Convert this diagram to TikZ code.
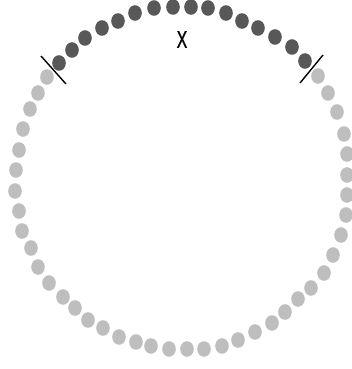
\documentclass[tikz,border=0pt]{standalone}
\usepackage{fontspec}
\setmainfont{Liberation Sans}
\newfontfamily\xlabelfont[FakeBold=1.2]{Liberation Sans}
\definecolor{darkdot}{RGB}{88,88,88}
\definecolor{lightdot}{RGB}{190,190,190}
\tikzset{
  darkbead/.style={fill=darkdot},
  lightbead/.style={fill=lightdot},
  tick/.style={draw=black,line width=1.4pt},
  lbl/.style={font=\xlabelfont\fontsize{24}{24}\selectfont, xscale=0.66, inner sep=0pt}
}
\begin{document}
\begin{tikzpicture}[x=1pt,y=-1pt]
\useasboundingbox (0,0) rectangle (351,369);
\foreach \px/\py in {59/63,72/50,85/38,102/28,118/21,135/13,154/8,173/7,191/7,208/8,226/13,242/21,258/28,275/37,292/47,305/61}
  \fill[darkbead] (\px,\py) ellipse [x radius=6.8, y radius=7.8];
\foreach \px/\py in {47/77,38/93,30/109,23/129,19/150,16/170,15/191,19/211,22/231,31/248,38/267,49/283,63/297,75/308,88/320,103/328,119/337,136/342,151/346,169/349,187/349,204/349,222/346,238/340,255/332,272/323,285/312,298/299,311/288,324/273,333/255,341/235,346/215,347/195,347/175,347/154,344/134,337/112,328/93,318/76}
  \fill[lightbead] (\px,\py) ellipse [x radius=6.8, y radius=7.8];
\coordinate (lt1) at (41,56);
\coordinate (lt2) at (66,84);
\coordinate (rt1) at (323,55);
\coordinate (rt2) at (300,83);
\draw[tick] (lt1) -- (lt2);
\draw[tick] (rt1) -- (rt2);
\node[lbl] (xlabel) at (182,39.5) {X};
\end{tikzpicture}
\end{document}
